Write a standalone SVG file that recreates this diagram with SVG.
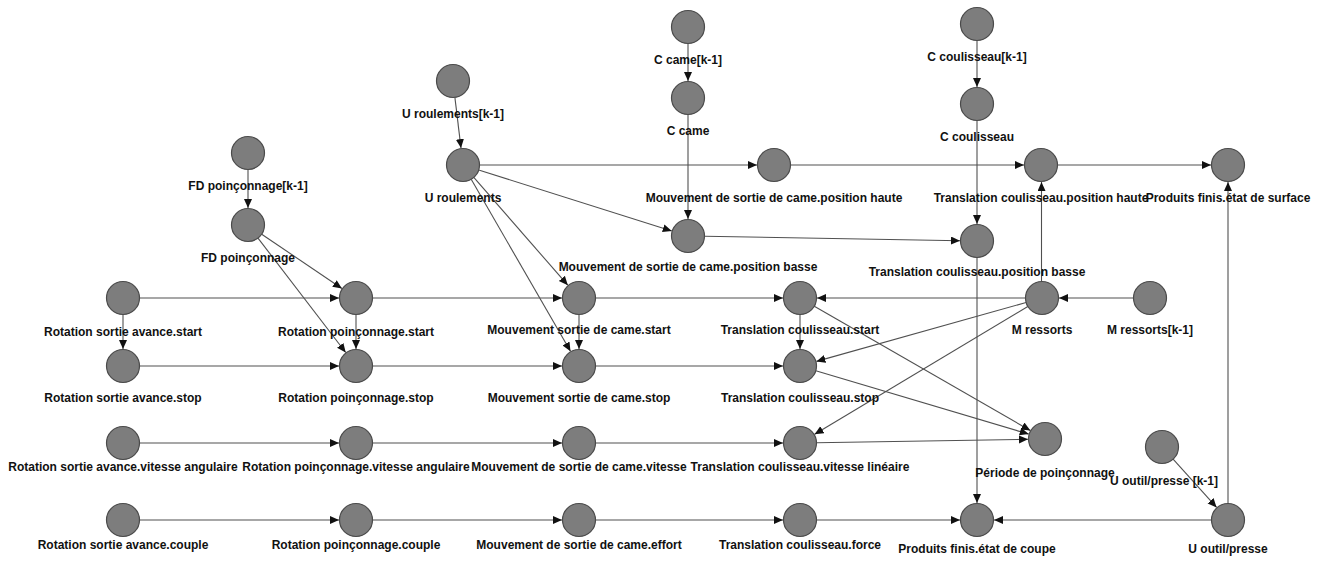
<svg xmlns="http://www.w3.org/2000/svg" width="1319" height="561" viewBox="0 0 1319 561">
<style>
.n circle{fill:#7d7d7d;stroke:#4a4a4a;stroke-width:1.2}
.n text{font-family:"Liberation Sans",Arial,sans-serif;font-weight:bold;font-size:12px;fill:#111;text-anchor:middle}
#edges line{stroke:#505050;stroke-width:1.1;marker-end:url(#ah)}
</style>
<defs>
<marker id="ah" markerUnits="userSpaceOnUse" markerWidth="10" markerHeight="9" refX="9" refY="4" orient="auto">
<path d="M0,0 L9,4 L0,8 z" fill="#111"/>
</marker>
</defs>
<rect width="1319" height="561" fill="#fff"/>
<g id="edges">
<line x1="248" y1="169.5" x2="248" y2="208"/>
<line x1="261.7" y1="234.2" x2="341.9" y2="288.5"/>
<line x1="258" y1="238.1" x2="345.7" y2="352.5"/>
<line x1="454.9" y1="97.4" x2="461" y2="148.1"/>
<line x1="479.5" y1="165" x2="757" y2="165"/>
<line x1="478.7" y1="170" x2="671.8" y2="230.9"/>
<line x1="473.8" y1="177.4" x2="567.8" y2="285.2"/>
<line x1="471.2" y1="179.3" x2="570.5" y2="351.3"/>
<line x1="688" y1="43.5" x2="688" y2="81"/>
<line x1="688" y1="114.5" x2="688" y2="219"/>
<line x1="977" y1="40.5" x2="977" y2="87"/>
<line x1="977" y1="120.5" x2="977" y2="224"/>
<line x1="790.5" y1="165" x2="1024" y2="165"/>
<line x1="1057.5" y1="165" x2="1211" y2="165"/>
<line x1="704.5" y1="236.3" x2="960" y2="240.7"/>
<line x1="1041.5" y1="281.5" x2="1041.5" y2="182"/>
<line x1="1228" y1="503.5" x2="1228" y2="182"/>
<line x1="1133.5" y1="298" x2="1059" y2="298"/>
<line x1="1025.5" y1="298" x2="817" y2="298"/>
<line x1="1026.1" y1="302.5" x2="816.4" y2="361.4"/>
<line x1="1027.8" y1="306.5" x2="814.6" y2="434.3"/>
<line x1="139.5" y1="298" x2="339" y2="298"/>
<line x1="372.5" y1="298" x2="562" y2="298"/>
<line x1="595.5" y1="298" x2="783" y2="298"/>
<line x1="123" y1="314.5" x2="123" y2="349"/>
<line x1="356" y1="314.5" x2="356" y2="349"/>
<line x1="579" y1="314.5" x2="579" y2="349"/>
<line x1="800" y1="314.5" x2="800" y2="349"/>
<line x1="139.5" y1="366" x2="339" y2="366"/>
<line x1="372.5" y1="366" x2="562" y2="366"/>
<line x1="595.5" y1="366" x2="783" y2="366"/>
<line x1="814.3" y1="306.2" x2="1030.3" y2="430.5"/>
<line x1="815.8" y1="370.7" x2="1028.7" y2="434.1"/>
<line x1="816.5" y1="442.7" x2="1028" y2="439.3"/>
<line x1="139.5" y1="443" x2="339" y2="443"/>
<line x1="372.5" y1="443" x2="562" y2="443"/>
<line x1="595.5" y1="443" x2="783" y2="443"/>
<line x1="139.5" y1="520" x2="339" y2="520"/>
<line x1="372.5" y1="520" x2="562" y2="520"/>
<line x1="595.5" y1="520" x2="783" y2="520"/>
<line x1="816.5" y1="520" x2="960" y2="520"/>
<line x1="1211.5" y1="520" x2="994" y2="520"/>
<line x1="1173.1" y1="459.2" x2="1216.6" y2="507.4"/>
<line x1="977" y1="257.5" x2="977" y2="503"/>
</g>
<g id="n-fdk1" class="n"><circle cx="248" cy="153" r="16.5"/><text x="248" y="190">FD poinçonnage[k-1]</text></g>
<g id="n-fd" class="n"><circle cx="248" cy="225" r="16.5"/><text x="248" y="262">FD poinçonnage</text></g>
<g id="n-urk1" class="n"><circle cx="453" cy="81" r="16.5"/><text x="453" y="118">U roulements[k-1]</text></g>
<g id="n-ur" class="n"><circle cx="463" cy="165" r="16.5"/><text x="463" y="202">U roulements</text></g>
<g id="n-cck1" class="n"><circle cx="688" cy="27" r="16.5"/><text x="688" y="64">C came[k-1]</text></g>
<g id="n-cc" class="n"><circle cx="688" cy="98" r="16.5"/><text x="688" y="135">C came</text></g>
<g id="n-mph" class="n"><circle cx="774" cy="165" r="16.5"/><text x="774" y="202">Mouvement de sortie de came.position haute</text></g>
<g id="n-ccok1" class="n"><circle cx="977" cy="24" r="16.5"/><text x="977" y="61">C coulisseau[k-1]</text></g>
<g id="n-cco" class="n"><circle cx="977" cy="104" r="16.5"/><text x="977" y="141">C coulisseau</text></g>
<g id="n-tph" class="n"><circle cx="1041" cy="165" r="16.5"/><text x="1041" y="202">Translation coulisseau.position haute</text></g>
<g id="n-pfs" class="n"><circle cx="1228" cy="165" r="16.5"/><text x="1228" y="202">Produits finis.état de surface</text></g>
<g id="n-mpb" class="n"><circle cx="688" cy="236" r="16.5"/><text x="688" y="271">Mouvement de sortie de came.position basse</text></g>
<g id="n-tpb" class="n"><circle cx="977" cy="241" r="16.5"/><text x="977" y="276">Translation coulisseau.position basse</text></g>
<g id="n-mr" class="n"><circle cx="1042" cy="298" r="16.5"/><text x="1042" y="334">M ressorts</text></g>
<g id="n-mrk1" class="n"><circle cx="1150" cy="298" r="16.5"/><text x="1150" y="334">M ressorts[k-1]</text></g>
<g id="n-rsas" class="n"><circle cx="123" cy="298" r="16.5"/><text x="123" y="336">Rotation sortie avance.start</text></g>
<g id="n-rps" class="n"><circle cx="356" cy="298" r="16.5"/><text x="356" y="336">Rotation poinçonnage.start</text></g>
<g id="n-mscs" class="n"><circle cx="579" cy="298" r="16.5"/><text x="579" y="334">Mouvement sortie de came.start</text></g>
<g id="n-tcs" class="n"><circle cx="800" cy="298" r="16.5"/><text x="800" y="334">Translation coulisseau.start</text></g>
<g id="n-rsast" class="n"><circle cx="123" cy="366" r="16.5"/><text x="123" y="402">Rotation sortie avance.stop</text></g>
<g id="n-rpst" class="n"><circle cx="356" cy="366" r="16.5"/><text x="356" y="402">Rotation poinçonnage.stop</text></g>
<g id="n-mscst" class="n"><circle cx="579" cy="366" r="16.5"/><text x="579" y="402">Mouvement sortie de came.stop</text></g>
<g id="n-tcst" class="n"><circle cx="800" cy="366" r="16.5"/><text x="800" y="402">Translation coulisseau.stop</text></g>
<g id="n-pp" class="n"><circle cx="1045" cy="439" r="16.5"/><text x="1045" y="477">Période de poinçonnage</text></g>
<g id="n-uopk1" class="n"><circle cx="1162" cy="447" r="16.5"/><text x="1164" y="485">U outil/presse [k-1]</text></g>
<g id="n-rsava" class="n"><circle cx="123" cy="443" r="16.5"/><text x="123" y="471">Rotation sortie avance.vitesse angulaire</text></g>
<g id="n-rpva" class="n"><circle cx="356" cy="443" r="16.5"/><text x="356" y="471">Rotation poinçonnage.vitesse angulaire</text></g>
<g id="n-mscv" class="n"><circle cx="579" cy="443" r="16.5"/><text x="579" y="471">Mouvement de sortie de came.vitesse</text></g>
<g id="n-tcvl" class="n"><circle cx="800" cy="443" r="16.5"/><text x="800" y="471">Translation coulisseau.vitesse linéaire</text></g>
<g id="n-rsac" class="n"><circle cx="123" cy="520" r="16.5"/><text x="123" y="549">Rotation sortie avance.couple</text></g>
<g id="n-rpc" class="n"><circle cx="356" cy="520" r="16.5"/><text x="356" y="549">Rotation poinçonnage.couple</text></g>
<g id="n-msce" class="n"><circle cx="579" cy="520" r="16.5"/><text x="579" y="549">Mouvement de sortie de came.effort</text></g>
<g id="n-tcf" class="n"><circle cx="800" cy="520" r="16.5"/><text x="800" y="549">Translation coulisseau.force</text></g>
<g id="n-pfc" class="n"><circle cx="977" cy="520" r="16.5"/><text x="977" y="553">Produits finis.état de coupe</text></g>
<g id="n-uop" class="n"><circle cx="1228" cy="520" r="16.5"/><text x="1228" y="553">U outil/presse</text></g>
</svg>
